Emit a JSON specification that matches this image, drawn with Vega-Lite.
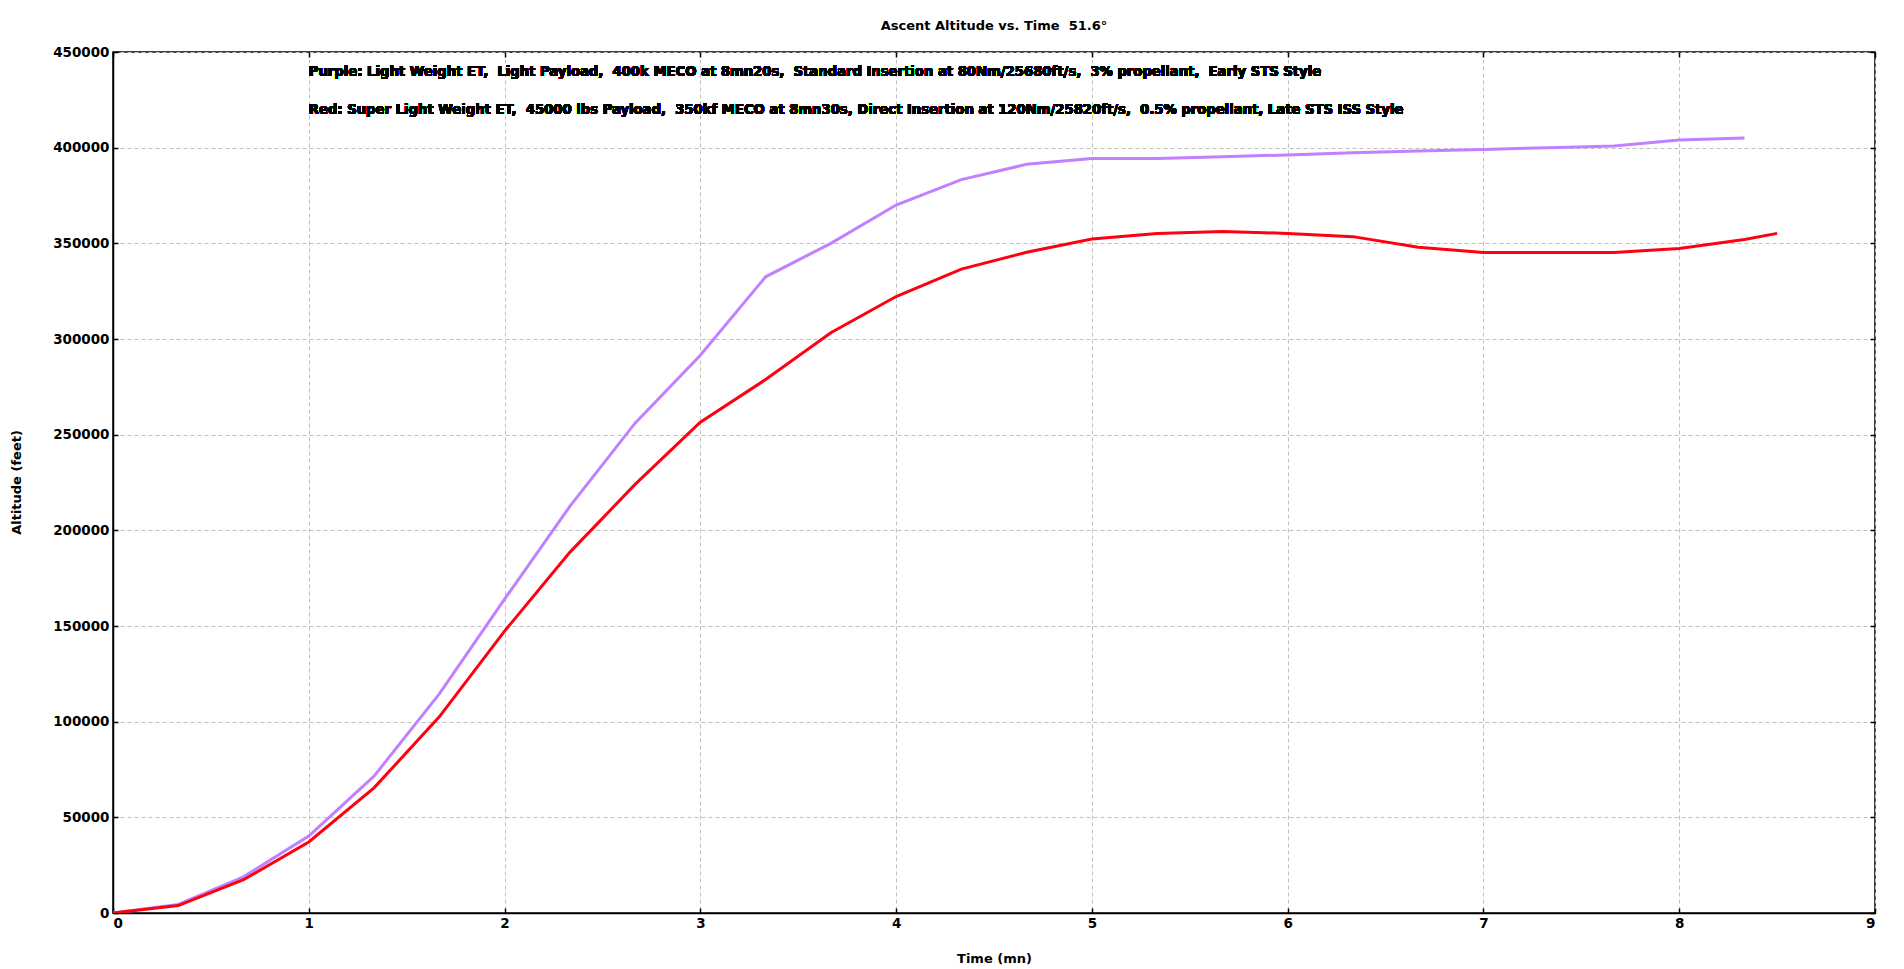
{
  "$schema": "https://vega.github.io/schema/vega-lite/v6.json",
  "autosize": {"type": "none"},
  "padding": {"left": 113, "top": 52, "right": 29, "bottom": 56},
  "width": 1762,
  "height": 861,
  "background": "white",
  "title": {
    "text": "Ascent Altitude vs. Time \u00a051.6°",
    "font": "DejaVu Sans",
    "fontSize": 13,
    "fontWeight": "bold",
    "color": "black",
    "offset": 12
  },
  "data": {
    "values": [
      {"series": "Purple", "t": 0, "alt": 0},
      {"series": "Purple", "t": 0.3333, "alt": 4500},
      {"series": "Purple", "t": 0.6667, "alt": 18900},
      {"series": "Purple", "t": 1, "alt": 40200},
      {"series": "Purple", "t": 1.3333, "alt": 71500},
      {"series": "Purple", "t": 1.6667, "alt": 114500},
      {"series": "Purple", "t": 2, "alt": 164000},
      {"series": "Purple", "t": 2.3333, "alt": 212500},
      {"series": "Purple", "t": 2.6667, "alt": 256000},
      {"series": "Purple", "t": 3, "alt": 291500},
      {"series": "Purple", "t": 3.3333, "alt": 332500},
      {"series": "Purple", "t": 3.6667, "alt": 350000},
      {"series": "Purple", "t": 4, "alt": 370000},
      {"series": "Purple", "t": 4.3333, "alt": 383300},
      {"series": "Purple", "t": 4.6667, "alt": 391300},
      {"series": "Purple", "t": 5, "alt": 394300},
      {"series": "Purple", "t": 5.3333, "alt": 394300},
      {"series": "Purple", "t": 5.6667, "alt": 395300},
      {"series": "Purple", "t": 6, "alt": 396200},
      {"series": "Purple", "t": 6.3333, "alt": 397300},
      {"series": "Purple", "t": 6.6667, "alt": 398200},
      {"series": "Purple", "t": 7, "alt": 399100},
      {"series": "Purple", "t": 7.3333, "alt": 400000},
      {"series": "Purple", "t": 7.6667, "alt": 400900},
      {"series": "Purple", "t": 8, "alt": 404000},
      {"series": "Purple", "t": 8.3333, "alt": 405000},
      {"series": "Red", "t": 0, "alt": 0},
      {"series": "Red", "t": 0.3333, "alt": 3900},
      {"series": "Red", "t": 0.6667, "alt": 17400},
      {"series": "Red", "t": 1, "alt": 37100},
      {"series": "Red", "t": 1.3333, "alt": 65400},
      {"series": "Red", "t": 1.6667, "alt": 102500},
      {"series": "Red", "t": 2, "alt": 147300},
      {"series": "Red", "t": 2.3333, "alt": 188500},
      {"series": "Red", "t": 2.6667, "alt": 224000},
      {"series": "Red", "t": 3, "alt": 256500},
      {"series": "Red", "t": 3.3333, "alt": 278800},
      {"series": "Red", "t": 3.6667, "alt": 303300},
      {"series": "Red", "t": 4, "alt": 322200},
      {"series": "Red", "t": 4.3333, "alt": 336500},
      {"series": "Red", "t": 4.6667, "alt": 345300},
      {"series": "Red", "t": 5, "alt": 352300},
      {"series": "Red", "t": 5.3333, "alt": 355200},
      {"series": "Red", "t": 5.6667, "alt": 356200},
      {"series": "Red", "t": 6, "alt": 355200},
      {"series": "Red", "t": 6.3333, "alt": 353500},
      {"series": "Red", "t": 6.6667, "alt": 348000},
      {"series": "Red", "t": 7, "alt": 345200},
      {"series": "Red", "t": 7.3333, "alt": 345200},
      {"series": "Red", "t": 7.6667, "alt": 345200},
      {"series": "Red", "t": 8, "alt": 347300},
      {"series": "Red", "t": 8.3333, "alt": 352000},
      {"series": "Red", "t": 8.5, "alt": 355200}
    ]
  },
  "layer": [
    {
      "mark": {"type": "line", "strokeWidth": 3, "clip": true},
      "encoding": {
        "x": {
          "field": "t",
          "type": "quantitative",
          "title": "Time (mn)",
          "scale": {"domain": [0, 9], "nice": false, "zero": false},
          "axis": {"values": [0, 1, 2, 3, 4, 5, 6, 7, 8, 9], "titleY": 45, "titleBaseline": "middle", "labelPadding": 8}
        },
        "y": {
          "field": "alt",
          "type": "quantitative",
          "title": "Altitude (feet)",
          "scale": {"domain": [0, 450000], "nice": false},
          "axis": {
            "values": [0, 50000, 100000, 150000, 200000, 250000, 300000, 350000, 400000, 450000],
            "format": "d",
            "titleX": -97,
            "titleY": 430,
            "titleAngle": -90,
            "titleAlign": "center",
            "titleBaseline": "middle",
            "labelPadding": 9
          }
        },
        "color": {
          "field": "series",
          "type": "nominal",
          "legend": null,
          "scale": {"domain": ["Purple", "Red"], "range": ["#c080ff", "#ff0010"]}
        }
      }
    },
    {
      "mark": {
        "type": "text",
        "text": "Purple: Light Weight ET, \u00a0Light Payload, \u00a0400k MECO at 8mn20s, \u00a0Standard Insertion at 80Nm/25680ft/s, \u00a03% propellant, \u00a0Early STS Style",
        "align": "left",
        "baseline": "middle",
        "font": "DejaVu Sans",
        "fontSize": 13.2,
        "fontWeight": "bold",
        "color": "black"
      },
      "encoding": {
        "x": {"datum": 1, "type": "quantitative", "axis": {"orient": "top", "labels": false, "title": null, "grid": false, "domain": false, "values": [0, 1, 2, 3, 4, 5, 6, 7, 8, 9]}},
        "y": {"datum": 439700, "type": "quantitative", "axis": {"orient": "right", "labels": false, "title": null, "grid": false, "domain": false, "values": [0, 50000, 100000, 150000, 200000, 250000, 300000, 350000, 400000, 450000]}}
      }
    },
    {
      "mark": {
        "type": "text",
        "text": "Red: Super Light Weight ET, \u00a045000 lbs Payload, \u00a0350kf MECO at 8mn30s, Direct Insertion at 120Nm/25820ft/s, \u00a00.5% propellant, Late STS ISS Style",
        "align": "left",
        "baseline": "middle",
        "font": "DejaVu Sans",
        "fontSize": 13.2,
        "fontWeight": "bold",
        "color": "black"
      },
      "encoding": {
        "x": {"datum": 1, "type": "quantitative", "axis": null},
        "y": {"datum": 419800, "type": "quantitative", "axis": null}
      }
    }
  ],
  "resolve": {"axis": {"x": "independent", "y": "independent"}},
  "config": {
    "view": {"stroke": "black", "strokeWidth": 1.5},
    "font": "DejaVu Sans",
    "axis": {
      "labelFont": "DejaVu Sans",
      "labelFontSize": 13.5,
      "labelFontWeight": "bold",
      "labelColor": "black",
      "titleFont": "DejaVu Sans",
      "titleFontSize": 13,
      "titleFontWeight": "bold",
      "titleColor": "black",
      "domainColor": "black",
      "domainWidth": 1.5,
      "tickColor": "black",
      "tickSize": -5,
      "tickWidth": 1.5,
      "gridColor": "#c0c0c0",
      "gridDash": [4, 3],
      "gridWidth": 1
    }
  }
}
